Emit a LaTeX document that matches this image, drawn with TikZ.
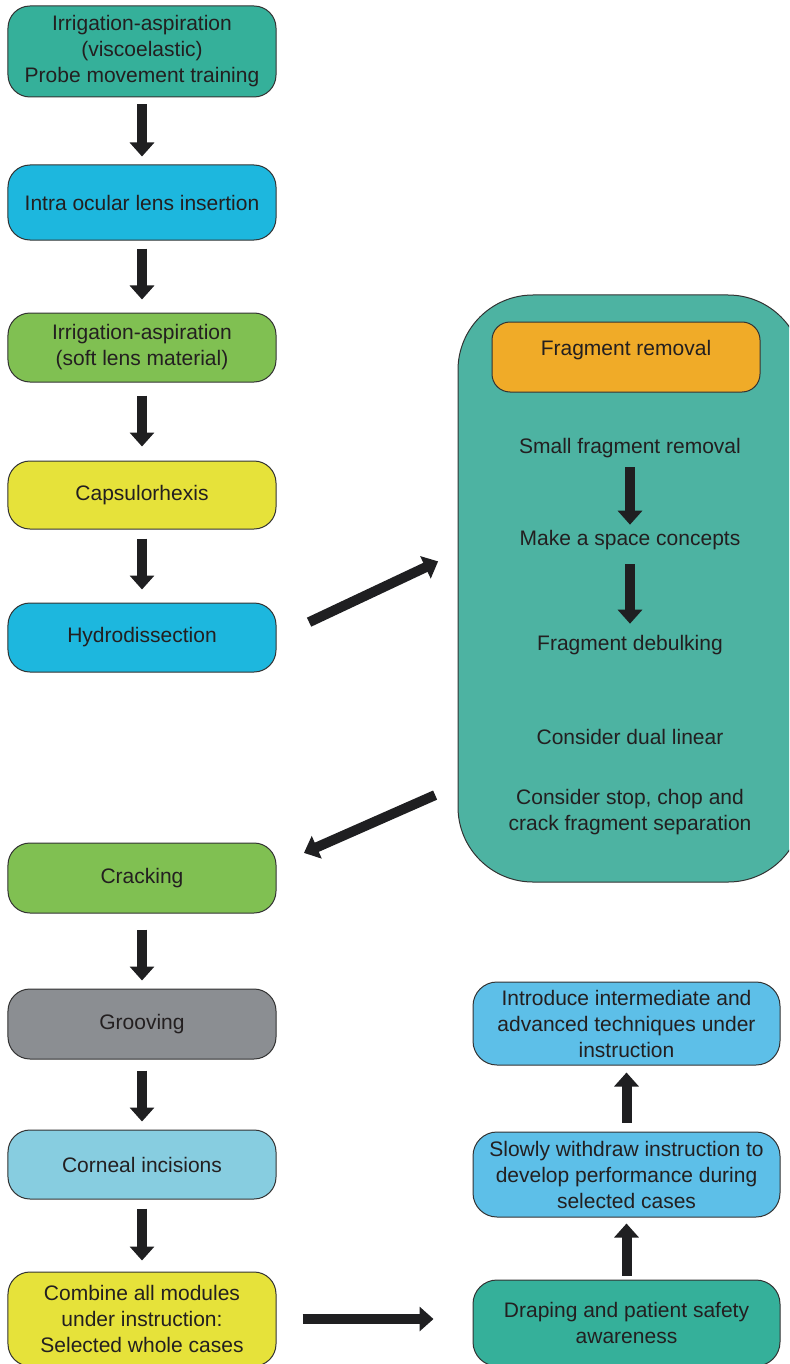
\documentclass[tikz,border=0pt]{standalone}
\usepackage{fontspec}
\setmainfont{Liberation Sans}
\usetikzlibrary{arrows.meta}

\definecolor{tealbox}{HTML}{35B09A}
\definecolor{bluebox}{HTML}{1DB7DE}
\definecolor{greenbox}{HTML}{80C052}
\definecolor{yellowbox}{HTML}{E6E23A}
\definecolor{greybox}{HTML}{8B8E92}
\definecolor{lightbluebox}{HTML}{87CDE0}
\definecolor{skybox}{HTML}{5DBFE8}
\definecolor{fragbg}{HTML}{4DB3A2}
\definecolor{orangebox}{HTML}{F0AB28}
\definecolor{arrowgrey}{HTML}{1F1F21}
\definecolor{inkgrey}{HTML}{231F20}
\definecolor{edgegrey}{HTML}{333333}

\begin{document}
\begin{tikzpicture}[x=1bp, y=-1bp,
  every node/.style={font=\fontsize{21bp}{26bp}\selectfont, text=inkgrey},
  stage/.style={draw=edgegrey, line width=1bp, rounded corners=22bp, align=center, minimum width=268bp},
  task/.style={draw=edgegrey, line width=1bp, rounded corners=24bp, align=center, minimum width=307bp},
  bigarrow/.style={draw=arrowgrey, line width=10bp, -{Triangle[width=24bp,length=14bp]}}]

\path[use as bounding box, clip] (0,0) rectangle (789,1364);

% fragment removal panel
\node[draw=edgegrey, line width=1bp, fill=fragbg, rounded corners=75bp, minimum width=345bp, minimum height=587bp] (fragbox) at (630.5,588.5) {};
\node[draw=edgegrey, line width=1bp, fill=orangebox, rounded corners=18bp, minimum width=268bp, minimum height=70bp, text height=15bp, text depth=19bp] (fragtitle) at (626,357) {Fragment removal};

\node (small) at (630,448) {Small fragment removal};
\node (space) at (630,540) {Make a space concepts};
\node (debulk) at (630,645) {Fragment debulking};
\node (dual) at (630,737) {Consider dual linear};
\node[align=center] (stopchop) at (630,812) {Consider stop, chop and\\crack fragment separation};

\coordinate (fragin) at (458,552);
\coordinate (fragout) at (458,785);

% left column
\node[stage, fill=tealbox, minimum height=91bp] (ia) at (142,51.5) {Irrigation-aspiration\\(viscoelastic)\\Probe movement training};
\node[stage, fill=bluebox, minimum height=75bp] (iol) at (142,202.5) {Intra ocular lens insertion};
\node[stage, fill=greenbox, minimum height=69bp] (iasoft) at (142,347.5) {Irrigation-aspiration\\(soft lens material)};
\node[stage, fill=yellowbox, minimum height=68bp] (capsu) at (142,495) {Capsulorhexis};
\node[stage, fill=bluebox, minimum height=69bp] (hydro) at (142,637.5) {Hydrodissection};
\node[stage, fill=greenbox, minimum height=70bp] (crack) at (142,878) {Cracking};
\node[stage, fill=greybox, minimum height=70bp] (groove) at (142,1024) {Grooving};
\node[stage, fill=lightbluebox, minimum height=69bp] (corneal) at (142,1164.5) {Corneal incisions};
\node[stage, fill=yellowbox, minimum height=94bp] (combine) at (142,1319) {Combine all modules\\under instruction:\\Selected whole cases};

% right column
\node[task, fill=skybox, minimum height=83bp] (introduce) at (626.5,1023.5) {Introduce intermediate and\\advanced techniques under\\instruction};
\node[task, fill=skybox, minimum height=85bp] (withdraw) at (626.5,1174.5) {Slowly withdraw instruction to\\develop performance during\\selected cases};
\node[task, fill=tealbox, minimum height=86bp] (drape) at (626.5,1323) {Draping and patient safety\\awareness};

\draw[bigarrow, shorten <=7bp, shorten >=8bp] (ia) -- (iol);
\draw[bigarrow, shorten <=8bp, shorten >=13bp] (iol) -- (iasoft);
\draw[bigarrow, shorten <=13bp, shorten >=14bp] (iasoft) -- (capsu);
\draw[bigarrow, shorten <=9bp, shorten >=13bp] (capsu) -- (hydro);
\draw[bigarrow, shorten <=36bp, shorten >=22bp] (hydro.east) -- (fragin);
\draw[bigarrow, shorten <=6bp, shorten >=2bp] (small) -- (space);
\draw[bigarrow, shorten <=11bp, shorten >=8bp] (space) -- (debulk);
\draw[bigarrow, shorten <=25bp, shorten >=30bp] (fragout) -- ([yshift=13bp]crack.east);
\draw[bigarrow, shorten <=16bp, shorten >=8bp] (crack) -- (groove);
\draw[bigarrow, shorten <=11bp, shorten >=8bp] (groove) -- (corneal);
\draw[bigarrow, shorten <=9bp, shorten >=11bp] (corneal) -- (combine);
\draw[bigarrow, shorten <=26bp, shorten >=39bp] (combine.east) -- (combine.east -| drape.west);
\draw[bigarrow, shorten <=4bp, shorten >=6bp] (drape) -- (withdraw);
\draw[bigarrow, shorten <=9bp, shorten >=7bp] (withdraw) -- (introduce);
\end{tikzpicture}
\end{document}
